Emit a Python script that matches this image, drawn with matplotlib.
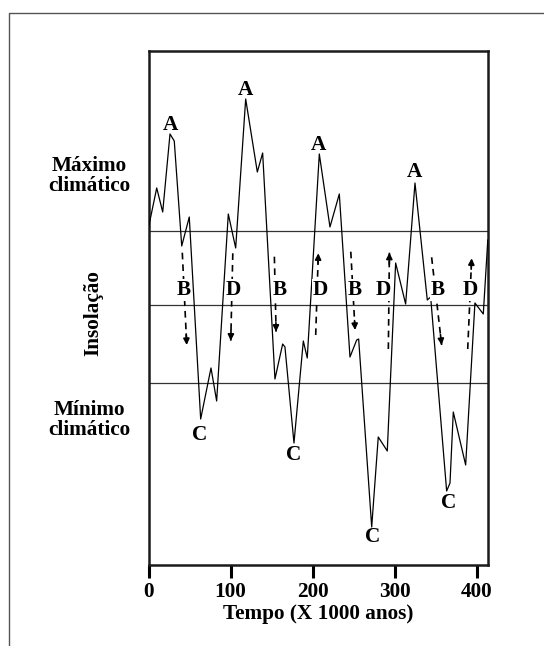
import matplotlib
matplotlib.use("Agg")
import matplotlib.pyplot as plt
from matplotlib.lines import Line2D

plt.rcParams["font.family"] = ["Liberation Serif", "DejaVu Serif"]
plt.rcParams["font.weight"] = "bold"

# Curva de insolação (tempo em mil anos, insolação em unidades arbitrárias)
tempo = [0, 9.9, 17.2, 26.1, 31.3, 40.4, 49.6, 63.5, 76.1, 83.0,
         97.2, 106.2, 118.4, 132.6, 139.1, 154.1, 163.5, 166.3, 177.3, 188.7,
         193.5, 208.2, 221.2, 232.6, 245.6, 253.8, 256.2, 272.1, 280.1, 291.1,
         301.3, 313.5, 324.9, 339.9, 344.0, 363.5, 367.6, 371.6, 386.7, 398.0,
         408.2, 413.7]
insolacao = [338, 377, 353, 431, 424, 319, 348, 146, 197, 164,
             351, 317, 466, 393, 412, 186, 221, 218, 122, 224,
             207, 411, 338, 371, 208, 225, 226, 38, 128, 114,
             302, 261, 382, 265, 268, 74, 82, 153, 100, 262,
             251, 325]

# linhas de referência (máximo, médio, mínimo)
niveis = [334, 260, 182.3]

# setas tracejadas: (x0, y0, x1, y1)
setas = [
    (41.1, 312.3, 46.5, 220),
    (102.7, 311.7, 100.2, 224.3),
    (153.4, 308.3, 155.5, 233.3),
    (203.8, 230, 207.0, 311.7),
    (246.6, 313.3, 251.8, 235),
    (292.4, 216, 293.7, 312.3),
    (345.2, 307.7, 357.4, 220),
    (389.2, 216, 394.0, 306.7),
]

rotulos_A = [(26.1, 440), (118.4, 475), (206.6, 420), (323.7, 393)]
rotulos_C = [(62.7, 130), (177.3, 110), (273.3, 28), (365.5, 62)]
rotulos_BD = [("B", 42.3), ("D", 102.9), ("B", 160.2), ("D", 209.9),
              ("B", 251.7), ("D", 286.2), ("B", 352.1), ("D", 392.8)]
y_BD = 275

W, H = 544, 646
fig = plt.figure(figsize=(W / 100, H / 100), dpi=100)
ax = fig.add_axes([148.6 / W, 1 - 565 / H, (487.8 - 148.6) / W, (565 - 51) / H])

FS = 15.3

for y in niveis:
    ax.axhline(y, color="#333333", lw=0.9, zorder=1)

ax.plot(tempo, insolacao, color="black", lw=0.9, zorder=3)

for x0, y0, x1, y1 in setas:
    ax.plot([x0, x1], [y0, y1], color="black", lw=1.2, ls=(0, (4, 3)), zorder=2)
    dx, dy = x1 - x0, y1 - y0
    ax.annotate("", xy=(x1, y1), xytext=(x1 - dx * 0.12, y1 - dy * 0.12),
                arrowprops=dict(arrowstyle="-|>", color="black", lw=1.2,
                                mutation_scale=9, shrinkA=0, shrinkB=0),
                zorder=2)

for x, y in rotulos_A:
    ax.text(x, y, "A", ha="center", va="center", fontsize=FS, fontweight="bold")
for x, y in rotulos_C:
    ax.text(x, y, "C", ha="center", va="center", fontsize=FS, fontweight="bold")
for s, x in rotulos_BD:
    ax.text(x, y_BD, s, ha="center", va="center", fontsize=FS, fontweight="bold",
            zorder=4, bbox=dict(facecolor="white", edgecolor="none", pad=0.5))

ax.set_xlim(0, 413.7)
ax.set_ylim(0, 514)
ax.set_xticks([0, 100, 200, 300, 400])
ax.set_yticks([])
ax.tick_params(axis="x", direction="out", length=9.5, width=2.2, pad=3, labelsize=FS)
for lab in ax.get_xticklabels():
    lab.set_fontweight("bold")
for sp in ax.spines.values():
    sp.set_linewidth(1.8)
    sp.set_color("#1a1a1a")
ax.set_xlabel("Tempo (X 1000 anos)", fontsize=FS, fontweight="bold", labelpad=1)

fig.text(89 / W, 1 - 176 / H, "Máximo\nclimático", ha="center", va="center",
         fontsize=FS, fontweight="bold", linespacing=1.0)
fig.text(93 / W, 1 - 313 / H, "Insolação", ha="center", va="center",
         rotation=90, fontsize=FS, fontweight="bold")
fig.text(89 / W, 1 - 420 / H, "Mínimo\nclimático", ha="center", va="center",
         fontsize=FS, fontweight="bold", linespacing=1.0)

# moldura externa
fig.add_artist(Line2D([9.4 / W, 9.4 / W, 1.0], [0.0, 1 - 12.5 / H, 1 - 12.5 / H],
                      transform=fig.transFigure, color="#555555", lw=1.0))

fig.savefig("out.png", dpi=100, facecolor="white")
